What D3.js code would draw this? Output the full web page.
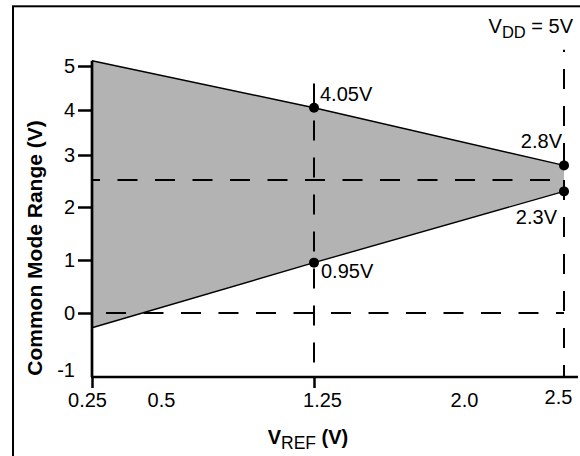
<!DOCTYPE html>
<html>
<head>
<meta charset="utf-8">
<script src="https://cdn.jsdelivr.net/npm/d3@7"></script>
<style>
  body { margin: 0; background: #fff; }
  text { font-family: "Liberation Sans", Arial, Helvetica, sans-serif; fill: #000; }
</style>
</head>
<body>
<div id="container"></div>
<script>
// values
const xTicks = [0.25, 0.5, 1.25, 2.0, 2.5];
const xTickLabels = ["0.25", "0.5", "1.25", "2.0", "2.5"];
const yTicks = [-1, 0, 1, 2, 3, 4, 5];

// common mode range envelope vs VREF
const vref = [0.25, 1.25, 2.5];
const cmHigh = [5.12, 4.05, 2.8];
const cmLow = [-0.23, 0.95, 2.3];

// marked points
const pointX = [1.25, 2.5, 1.25, 2.5];
const pointY = [4.05, 2.8, 0.95, 2.3];
const pointLabels = ["4.05V", "2.8V", "0.95V", "2.3V"];

// dashed guides
const hGuides = [0, 2.52];
const vGuides = [1.25, 2.5];
const vGuideTops = [4.6, 5.37];

const W = 580, H = 456;

const svg = d3.select("#container")
  .append("svg")
  .attr("width", W)
  .attr("height", H);

// the axes of the original are not evenly spaced, so piecewise scales
const x = d3.scaleLinear()
  .domain(xTicks)
  .range([92, 161, 314, 464, 564]);
const y = d3.scaleLinear()
  .domain(yTicks)
  .range([377, 313, 260, 207, 155, 110, 66]);

// outer frame (runs off the right and bottom edge)
svg.append("rect")
  .attr("x", 13)
  .attr("y", 6.3)
  .attr("width", W + 20)
  .attr("height", H + 20)
  .attr("fill", "none")
  .attr("stroke", "#000")
  .attr("stroke-width", 2);

const band = vref.map((v, i) => ({v: v, hi: cmHigh[i], lo: cmLow[i]}));

svg.append("path")
  .datum(band)
  .attr("d", d3.area().x(d => x(d.v)).y0(d => y(d.lo)).y1(d => y(d.hi)))
  .attr("fill", "#b3b3b3");

["hi", "lo"].forEach(k => {
  svg.append("path")
    .datum(band)
    .attr("d", d3.line().x(d => x(d.v)).y(d => y(d[k])))
    .attr("fill", "none")
    .attr("stroke", "#000")
    .attr("stroke-width", 1.4);
});

// dashed guide lines
const hOffsets = [23.5, 12];
hGuides.forEach((g, i) => {
  svg.append("line")
    .attr("x1", x(0.25)).attr("x2", x(2.5))
    .attr("y1", y(g)).attr("y2", y(g))
    .attr("stroke", "#000")
    .attr("stroke-width", 2)
    .attr("stroke-dasharray", "20,17.5")
    .attr("stroke-dashoffset", hOffsets[i]);
});
const vOffsets = [22.5, 8];
vGuides.forEach((g, i) => {
  svg.append("line")
    .attr("x1", x(g)).attr("x2", x(g))
    .attr("y1", y(-1)).attr("y2", y(vGuideTops[i]))
    .attr("stroke", "#000")
    .attr("stroke-width", 2)
    .attr("stroke-dasharray", "20,17")
    .attr("stroke-dashoffset", vOffsets[i]);
});

// y axis
const yAxisG = svg.append("g")
  .attr("transform", `translate(${x(0.25)},0)`)
  .call(d3.axisLeft(y).tickValues(yTicks).tickSize(14).tickPadding(3).tickFormat(d => String(d)));
yAxisG.select(".domain").remove();
yAxisG.selectAll(".tick line").attr("stroke", "#000").attr("stroke-width", 2.5)
  .filter(d => d === -1).remove();
yAxisG.selectAll(".tick text")
  .attr("font-size", 20)
  .attr("font-family", null)
  .attr("dy", d => d === -1 ? "-0.05em" : "0.34em");

// x axis
const xAxisG = svg.append("g")
  .attr("transform", `translate(0,${y(-1)})`)
  .call(d3.axisBottom(x).tickValues(xTicks).tickSize(11).tickPadding(5).tickFormat((d, i) => xTickLabels[i]));
xAxisG.select(".domain").remove();
xAxisG.selectAll(".tick line").attr("stroke", "#000").attr("stroke-width", 2.5)
  .filter(d => d !== 0.25 && d !== 1.25).remove();
const xNudge = {0.25: [-5, 0], 1.25: [8, 0], 2.5: [-6, -3]};
xAxisG.selectAll(".tick text")
  .attr("font-size", 20)
  .attr("font-family", null)
  .attr("transform", d => xNudge[d] ? `translate(${xNudge[d][0]},${xNudge[d][1]})` : null);

// axis lines
svg.append("line")
  .attr("x1", x(0.25)).attr("x2", x(0.25))
  .attr("y1", y(d3.max(cmHigh))).attr("y2", y(-1))
  .attr("stroke", "#000").attr("stroke-width", 2.7);
svg.append("line")
  .attr("x1", x(0.25) - 1).attr("x2", x(2.5) + 14)
  .attr("y1", y(-1)).attr("y2", y(-1))
  .attr("stroke", "#000").attr("stroke-width", 2.7);

// points + their labels
const labelOffsets = [[6, -7, "start"], [-2, -17, "end"], [7, 15, "start"], [-7, 33, "end"]];
pointX.forEach((px, i) => {
  svg.append("circle")
    .attr("cx", x(px))
    .attr("cy", y(pointY[i]))
    .attr("r", 5)
    .attr("fill", "#000");
  svg.append("text")
    .attr("x", x(px) + labelOffsets[i][0])
    .attr("y", y(pointY[i]) + labelOffsets[i][1])
    .attr("text-anchor", labelOffsets[i][2])
    .attr("font-size", 20)
    .text(pointLabels[i]);
});

// VDD note
const vdd = svg.append("text")
  .attr("x", 573)
  .attr("y", 33)
  .attr("text-anchor", "end")
  .attr("font-size", 20)
  .style("white-space", "pre");
vdd.append("tspan").text("V");
vdd.append("tspan").attr("font-size", 16.5).attr("dy", 5).text("DD");
vdd.append("tspan").attr("dy", -5).text(" = 5V");

// axis titles
const xt = svg.append("text")
  .attr("x", 308)
  .attr("y", 444)
  .attr("text-anchor", "middle")
  .attr("font-size", 20)
  .style("white-space", "pre");
xt.append("tspan").attr("font-weight", "bold").text("V");
xt.append("tspan").attr("font-size", 17.5).attr("dy", 5).text("REF");
xt.append("tspan").attr("font-weight", "bold").attr("dy", -5).text(" (V)");

svg.append("text")
  .attr("transform", "translate(42,248) rotate(-90)")
  .attr("text-anchor", "middle")
  .attr("font-size", 21)
  .attr("font-weight", "bold")
  .text("Common Mode Range (V)");
</script>
</body>
</html>
